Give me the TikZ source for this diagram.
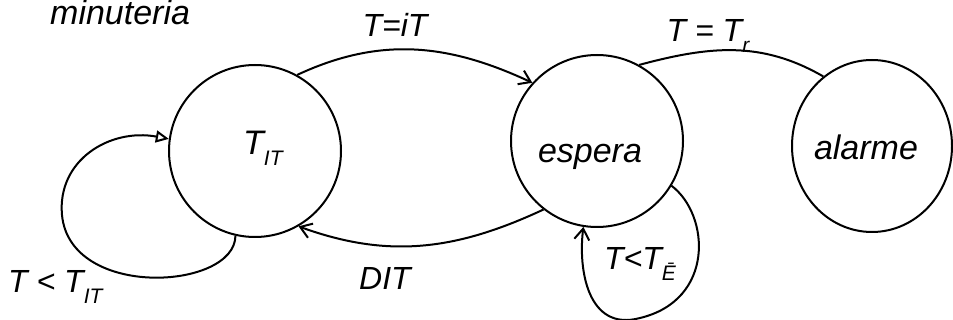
\documentclass[tikz,border=0pt]{standalone}
\usepackage{fontspec}
\setmainfont{Liberation Sans}
\usetikzlibrary{arrows.meta,shapes.geometric}
% lowered small index for state and condition names
\newcommand\lowidx[1]{\raisebox{-0.6ex}{\fontsize{21}{21}\selectfont #1}}
\begin{document}
\begin{tikzpicture}[x=1pt,y=-1pt,
  state/.style={circle,draw,line width=2pt,minimum size=172pt,inner sep=0pt},
  wide state/.style={ellipse,draw,line width=2pt,minimum width=160pt,minimum height=172pt,inner sep=0pt},
  lbl/.style={font=\fontsize{32}{36}\selectfont\itshape,inner sep=0pt},
  sname/.style={font=\fontsize{34}{38}\selectfont\itshape,inner sep=0pt},
  edge/.style={line width=2pt},
  barb/.style={-{Straight Barb[length=11pt,width=15pt,line width=2pt]}},
  openhead/.style={-{Triangle[open,length=13pt,width=12pt,line width=2pt]}}]
\useasboundingbox (0,0) rectangle (953,320);

% title
\node[sname,anchor=base west] (title) at (50,25) {minuteria};

% states
\node[state] (tit) at (255,151) {};
\node[state] (esp) at (597,141) {};
\node[wide state] (alm) at (872,146) {};

\node[sname,anchor=base west] (titname) at (243,155) {T\lowidx{IT}};
\node[sname,anchor=base] (espname) at (590,163) {espera};
\node[sname,anchor=base] (almname) at (866,160) {alarme};

% transitions between states
\draw[edge,barb] (tit.61) to[out=25,in=155] (esp.138);
\draw[edge,barb] (esp.232) to[out=205,in=-20] (tit.300);
\draw[edge] (esp.61) to[out=15,in=150] (alm.125);

% self loops
\coordinate (loopA) at (62,215);
\draw[edge,openhead] (tit.-103.5) .. controls (235,290) and (70,300) .. (loopA)
  .. controls (57,160) and (110,128) .. (tit.172);
\coordinate (loopB) at (640,318);
\draw[edge,barb] (esp.-31) .. controls (710,215) and (715,300) .. (loopB)
  .. controls (588,332) and (578,270) .. (esp.-99.4);

% conditions
\node[lbl,anchor=base] (c1) at (395,37) {T=iT};
\node[lbl,anchor=base] (c2) at (708,42) {T = T\lowidx{r}};
\node[lbl,anchor=base] (c3) at (385,290) {DIT};
\node[lbl,anchor=base] (c4) at (640,270) {T<T\lowidx{Ē}};
\node[lbl,anchor=base west] (c5) at (8,293) {T < T\lowidx{IT}};
\end{tikzpicture}
\end{document}
